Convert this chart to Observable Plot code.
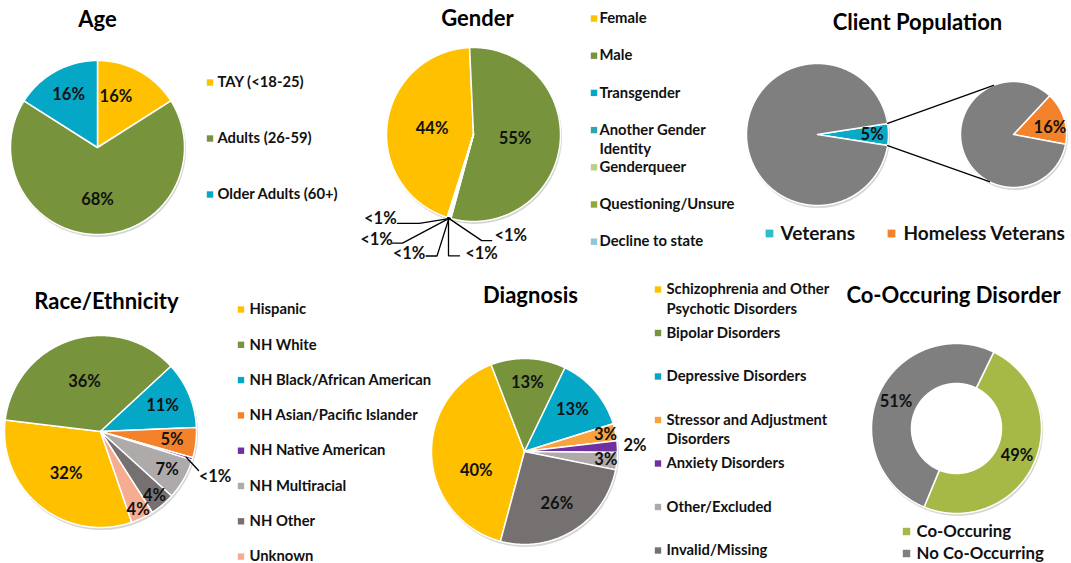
<!DOCTYPE html>
<html><head><meta charset="utf-8">
<script src="https://cdn.jsdelivr.net/npm/d3@7"></script>
<script src="https://cdn.jsdelivr.net/npm/@observablehq/plot@0.6"></script>
<style>
html,body{margin:0;padding:0;background:#fff;}
#chart{width:1071px;height:563px;overflow:hidden;}
</style></head><body><div id="chart"></div>
<script>
// ---------------- data ----------------
const ageCategories = ["TAY (<18-25)", "Adults (26-59)", "Older Adults (60+)"];
const ageValues = [16, 68, 16];

const genderCategories = ["Female", "Male", "Transgender", "Another Gender Identity", "Genderqueer", "Questioning/Unsure", "Decline to state"];
const genderValues = [44.4, 54.9, 0.2, 0.1, 0.1, 0.1, 0.2];

const veteranCategories = ["Veterans", "Non-Veterans"];
const veteranValues = [5, 95];
const homelessCategories = ["Homeless Veterans", "Other Veterans"];
const homelessValues = [16, 84];
const clientLegendCategories = ["Veterans", "Homeless Veterans"];

const raceCategories = ["Hispanic", "NH White", "NH Black/African American", "NH Asian/Pacific Islander", "NH Native American", "NH Multiracial", "NH Other", "Unknown"];
const raceValues = [32.2, 36.2, 11.2, 5.1, 0.4, 6.9, 4.2, 3.8];

const diagnosisCategories = ["Schizophrenia and Other Psychotic Disorders", "Bipolar Disorders", "Depressive Disorders", "Stressor and Adjustment Disorders", "Anxiety Disorders", "Other/Excluded", "Invalid/Missing"];
const diagnosisValues = [40, 13, 13, 3, 2, 3, 26];

const coCategories = ["Co-Occuring", "No Co-Occurring"];
const coValues = [49, 51];

const titles = ["Age", "Gender", "Client Population", "Race/Ethnicity", "Diagnosis", "Co-Occuring Disorder"];

// ---------------- styles ----------------
const ageColors = ["#FFC000", "#77933C", "#04A7C6"];
const genderColors = ["#FFC000", "#77933C", "#04A7C6", "#2FA5AE", "#B8D08E", "#8FA83A", "#8FC7DA"];
const veteranColors = ["#0AA9C6", "#7F7F7F"];
const homelessColors = ["#F4822A", "#7F7F7F"];
const clientLegendColors = ["#2FBDCB", "#F4822A"];
const raceColors = ["#FFC000", "#77933C", "#04A7C6", "#F4822A", "#7030A0", "#AEAAAA", "#767171", "#F5AC90"];
const diagnosisColors = ["#FFC000", "#77933C", "#04A7C6", "#F9A23E", "#7030A0", "#AEAAAA", "#767171"];
const coColors = ["#A6B947", "#7F7F7F"];

// ---------------- layout ----------------
const W = 1071, H = 563;
const L = {
  age:      {cx: 97,  cy: 147, r: 87, start: 0,     labels: [[0.62, 20], [0.6], [0.69]]},
  gender:   {cx: 473, cy: 134, r: 87, start: 197.6, labels: [[0.48], [0.48], null, null, null, null, null]},
  veteran:  {cx: 817, cy: 134, r: 71, start: 81,    labels: [[0.77], null]},
  homeless: {cx: 1013, cy: 134, r: 53, start: 43,   labels: [[0.7, 79], null]},
  race:     {cx: 100, cy: 431, r: 96, start: 161,   labels: [[0.57], [0.54], [0.7], [0.75], null, [0.8], [0.87], [0.9]]},
  diagnosis:{cx: 524, cy: 451, r: 93, start: 195,   labels: [[0.56, 248], [0.74], [0.68], [0.89], [1.19], [0.88], [0.66]]},
  co:       {cx: 956, cy: 428, r: 85, inner: 45, start: 26, labels: [[0.78], [0.78]]}
};
const titlePos = [[97, 19, 22], [477, 18, 22], [917, 22, 22], [106, 301, 22], [530, 295, 22], [953, 295, 22]];
const pieLabelSize = 16.5;
// leaders: slice index, start radius fraction, offsets of following points, label offset
const leaders = {
  gender: [
    {i: 2, f: 1, pts: [[-31, 5], [-53, 5]], lab: [-70, 0]},
    {i: 3, f: 1, pts: [[-47, 25], [-57, 25]], lab: [-73, 22]},
    {i: 4, f: 1, pts: [[-12, 38], [-23, 38]], lab: [-40, 36]},
    {i: 5, f: 1, pts: [[0, 38], [11, 38]], lab: [33, 36]},
    {i: 6, f: 1, pts: [[34, 23], [44, 23]], lab: [63, 18]}
  ],
  race: [
    {i: 4, f: 0.93, pts: [[12.5, 13.5]], lab: [29, 20]}
  ]
};
const legends = [
  {cats: ageCategories, colors: ageColors, sx: 209.5, tx: 217, y0: 82, step: 56, size: 14.8, wrap: 40},
  {cats: genderCategories, colors: genderColors, sx: 593.5, tx: 599, y0: 18, step: 37.2, size: 14.8, wrap: 16},
  {cats: raceCategories, colors: raceColors, sx: 240.5, tx: 249, y0: 309, step: 35.3, size: 14.8, wrap: 40},
  {cats: diagnosisCategories, colors: diagnosisColors, sx: 657.5, tx: 666, y0: 289, step: 43.5, size: 14.8, wrap: 24},
  {cats: coCategories, colors: coColors, sx: 906, tx: 916, y0: 531, step: 22, size: 16.8, wrap: 40, sq: 4.2}
];
const clientLegend = {sx: [769, 891], tx: [780, 903], y: 233, size: 19, sq: 4.4};

// ---------------- build ----------------
const deg = Math.PI / 180;
function pie(key, cats, vals, colors) {
  const lay = L[key];
  const arcs = d3.pie().sort(null).value(d => d)
    .startAngle(lay.start * deg).endAngle(lay.start * deg + 2 * Math.PI)(vals);
  return arcs.map((a, i) => ({key, id: key + i, i, cat: cats[i], value: vals[i], color: colors[i],
    a0: a.startAngle, a1: a.endAngle, mid: (a.startAngle + a.endAngle) / 2, lay}));
}
function pt(lay, frac, ang) { return [lay.cx + lay.r * frac * Math.sin(ang), lay.cy - lay.r * frac * Math.cos(ang)]; }
function poly(s) {
  const lay = s.lay, out = [];
  const n = Math.max(2, Math.ceil((s.a1 - s.a0) / deg * 2));
  for (let k = 0; k <= n; k++) { const [x, y] = pt(lay, 1, s.a0 + (s.a1 - s.a0) * k / n); out.push({id: s.id, color: s.color, x, y}); }
  if (lay.inner) {
    for (let k = n; k >= 0; k--) { const [x, y] = pt(lay, lay.inner / lay.r, s.a0 + (s.a1 - s.a0) * k / n); out.push({id: s.id, color: s.color, x, y}); }
  } else out.push({id: s.id, color: s.color, x: lay.cx, y: lay.cy});
  return out;
}
const fmt = v => v < 1 ? "<1%" : Math.round(v) + "%";

const slices = [
  ...pie("age", ageCategories, ageValues, ageColors),
  ...pie("gender", genderCategories, genderValues, genderColors),
  ...pie("veteran", veteranCategories, veteranValues, veteranColors),
  ...pie("homeless", homelessCategories, homelessValues, homelessColors),
  ...pie("race", raceCategories, raceValues, raceColors),
  ...pie("diagnosis", diagnosisCategories, diagnosisValues, diagnosisColors),
  ...pie("co", coCategories, coValues, coColors)
];
const polys = slices.flatMap(poly);

// in-slice labels
const labels = [];
for (const s of slices) {
  const spec = s.lay.labels[s.i];
  if (!spec) continue;
  const ang = spec[1] != null ? spec[1] * deg : s.mid;
  const [x, y] = pt(s.lay, spec[0], ang);
  labels.push({x, y, text: fmt(s.value)});
}
// leader lines + labels
const leaderPts = [];
for (const key of Object.keys(leaders)) {
  for (const ld of leaders[key]) {
    const s = slices.find(d => d.key === key && d.i === ld.i);
    const [x0, y0] = pt(s.lay, ld.f, s.mid);
    leaderPts.push({id: s.id, x: x0, y: y0});
    for (const p of ld.pts) leaderPts.push({id: s.id, x: x0 + p[0], y: y0 + p[1]});
    labels.push({x: x0 + ld.lab[0], y: y0 + ld.lab[1], text: fmt(s.value)});
  }
}
// pie-of-pie connectors
const vet = slices.find(d => d.key === "veteran" && d.i === 0);
const connectors = [];
{
  const [ax, ay] = pt(L.veteran, 1, vet.a0), [bx, by] = pt(L.veteran, 1, vet.a1);
  const [cx1, cy1] = pt(L.homeless, 1, 338 * deg), [cx2, cy2] = pt(L.homeless, 1, 207 * deg);
  connectors.push({id: "c1", x: ax, y: ay}, {id: "c1", x: cx1, y: cy1}, {id: "c2", x: bx, y: by}, {id: "c2", x: cx2, y: cy2});
}
// circles for shadows
const circles = Object.values(L).map(l => ({x: l.cx, y: l.cy, r: l.r}));
const holes = Object.values(L).filter(l => l.inner).map(l => ({x: l.cx, y: l.cy, r: l.inner}));

// legends
const legSw = [], legTx = [];
for (const lg of legends) {
  lg.cats.forEach((c, i) => {
    const y = lg.y0 + i * lg.step;
    legSw.push({x: lg.sx, y, color: lg.colors[i], r: lg.sq || 3.6});
    const words = c.split(" "), lines = [];
    let cur = "";
    for (const w of words) { if (cur && (cur + " " + w).length > lg.wrap) { lines.push(cur); cur = w; } else cur = cur ? cur + " " + w : w; }
    lines.push(cur);
    lines.forEach((t, k) => legTx.push({x: lg.tx, y: y + k * 19.5, text: t, size: lg.size}));
  });
}
clientLegendCategories.forEach((c, i) => {
  legSw.push({x: clientLegend.sx[i], y: clientLegend.y, color: clientLegendColors[i], r: clientLegend.sq});
  legTx.push({x: clientLegend.tx[i], y: clientLegend.y, text: c, size: clientLegend.size});
});
const titleData = titles.map((t, i) => ({x: titlePos[i][0], y: titlePos[i][1], text: t, size: titlePos[i][2]}));

const chart = Plot.plot({
  width: W, height: H, margin: 0,
  x: {domain: [0, W], range: [0, W], axis: null},
  y: {domain: [0, H], range: [0, H], axis: null},
  color: {type: "identity"},
  r: {type: "identity"},
  style: {fontFamily: "Lato, 'Open Sans', sans-serif", background: "white", overflow: "visible"},
  marks: [
    Plot.dot(circles, {x: "x", y: "y", r: d => d.r + 0.5, fill: "#8a8a8a", fillOpacity: 0.35, stroke: "none", dx: 1, dy: 2}),
    Plot.dot(holes, {x: "x", y: "y", r: "r", fill: "white", stroke: "none"}),
    Plot.line(polys, {x: "x", y: "y", z: "id", fill: "color", stroke: "white", strokeWidth: 1.5, curve: "linear-closed", strokeLinejoin: "round"}),
    Plot.line(connectors, {x: "x", y: "y", z: "id", stroke: "black", strokeWidth: 1.3}),
    Plot.line(leaderPts, {x: "x", y: "y", z: "id", stroke: "black", strokeWidth: 1.3, strokeLinejoin: "miter"}),
    Plot.text(labels, {x: "x", y: "y", text: "text", fontSize: pieLabelSize, fontWeight: "bold", fill: "#111"}),
    Plot.text(titleData, {x: "x", y: "y", text: "text", fontSize: "size", fontWeight: "bold", fill: "#000"}),
    Plot.dot(legSw, {x: "x", y: "y", r: "r", symbol: "square", fill: "color", stroke: "none"}),
    Plot.text(legTx, {x: "x", y: "y", text: "text", fontSize: "size", fontWeight: "bold", textAnchor: "start", fill: "#111"})
  ]
});
document.getElementById("chart").append(chart);
</script>
</body></html>
